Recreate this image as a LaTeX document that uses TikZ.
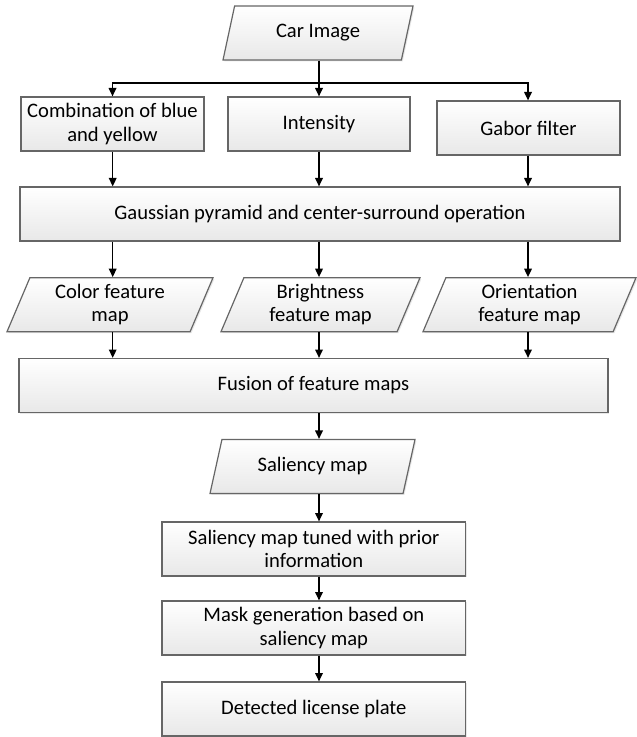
\documentclass[tikz,border=0pt]{standalone}
\usepackage{fontspec}
\setmainfont{Carlito}
\usetikzlibrary{shapes.geometric,arrows.meta,shadows}

\begin{document}
\begin{tikzpicture}[x=0.5pt,y=-0.5pt,
  box/.style={draw=black!60,line width=0.6pt,top color=white,bottom color=black!9,
    drop shadow={shadow xshift=0.7pt,shadow yshift=-0.7pt,fill=black!18},
    minimum height=27pt,inner sep=2pt,align=center,font=\fontsize{10.3}{11.75}\selectfont},
  data/.style={box,trapezium,trapezium left angle=65,trapezium right angle=115,
    trapezium stretches body},
  arr/.style={-{Triangle[length=4.2pt,width=3.8pt]},line width=0.7pt}]
\useasboundingbox (0,0) rectangle (636,737);

% input image
\node[data,minimum width=95pt] (car) at (318,33) {Car Image};

% three channels
\node[box,minimum width=91.5pt] (comb) at (112.5,124) {Combination of blue\\and yellow};
\node[box,minimum width=91pt] (inten) at (319,124) {Intensity};
\node[box,minimum width=91.5pt] (gabor) at (528.5,128) {Gabor filter};

\node[box,minimum width=300pt] (gauss) at (320,214) {Gaussian pyramid and center-surround operation};

% feature maps
\node[data,minimum width=103pt] (colfm) at (110,304.7) {Color feature\\map};
\node[data,minimum width=99.5pt] (brifm) at (320.5,304.7) {Brightness\\feature map};
\node[data,minimum width=106.5pt] (orifm) at (529.5,304.7) {Orientation\\feature map};

\node[box,minimum width=294.5pt] (fusion) at (313.5,385.5) {Fusion of feature maps};
\node[data,minimum width=102.5pt] (salmap) at (312.5,466.5) {Saliency map};

% post processing
\node[box,minimum width=151.75pt] (tuned) at (313.8,549) {Saliency map tuned with prior\\information};
\node[box,minimum width=151.75pt] (mask) at (313.8,628) {Mask generation based on\\saliency map};
\node[box,minimum width=151.75pt] (plate) at (313.8,709) {Detected license plate};

% columns of the arrows
\coordinate (cl) at (112.7,0);
\coordinate (cm) at (319,0);
\coordinate (cr) at (528,0);
\coordinate (split) at (319,83);

\draw[line width=0.7pt] (cm |- car.south) -- (split);
\draw[arr] (split) -| (comb.north);
\draw[arr] (split) -- (cm |- inten.north);
\draw[arr] (split) -| (cr |- gabor.north);

\draw[arr] (cl |- comb.south) -- (cl |- gauss.north);
\draw[arr] (cm |- inten.south) -- (cm |- gauss.north);
\draw[arr] (cr |- gabor.south) -- (cr |- gauss.north);

\draw[arr] (cl |- gauss.south) -- (cl |- colfm.north);
\draw[arr] (cm |- gauss.south) -- (cm |- brifm.north);
\draw[arr] (cr |- gauss.south) -- (cr |- orifm.north);

\draw[arr] (cl |- colfm.south) -- (cl |- fusion.north);
\draw[arr] (cm |- brifm.south) -- (cm |- fusion.north);
\draw[arr] (cr |- orifm.south) -- (cr |- fusion.north);

\draw[arr] (cm |- fusion.south) -- (cm |- salmap.north);
\draw[arr] (cm |- salmap.south) -- (cm |- tuned.north);
\draw[arr] (cm |- tuned.south) -- (cm |- mask.north);
\draw[arr] (cm |- mask.south) -- (cm |- plate.north);

\end{tikzpicture}
\end{document}
